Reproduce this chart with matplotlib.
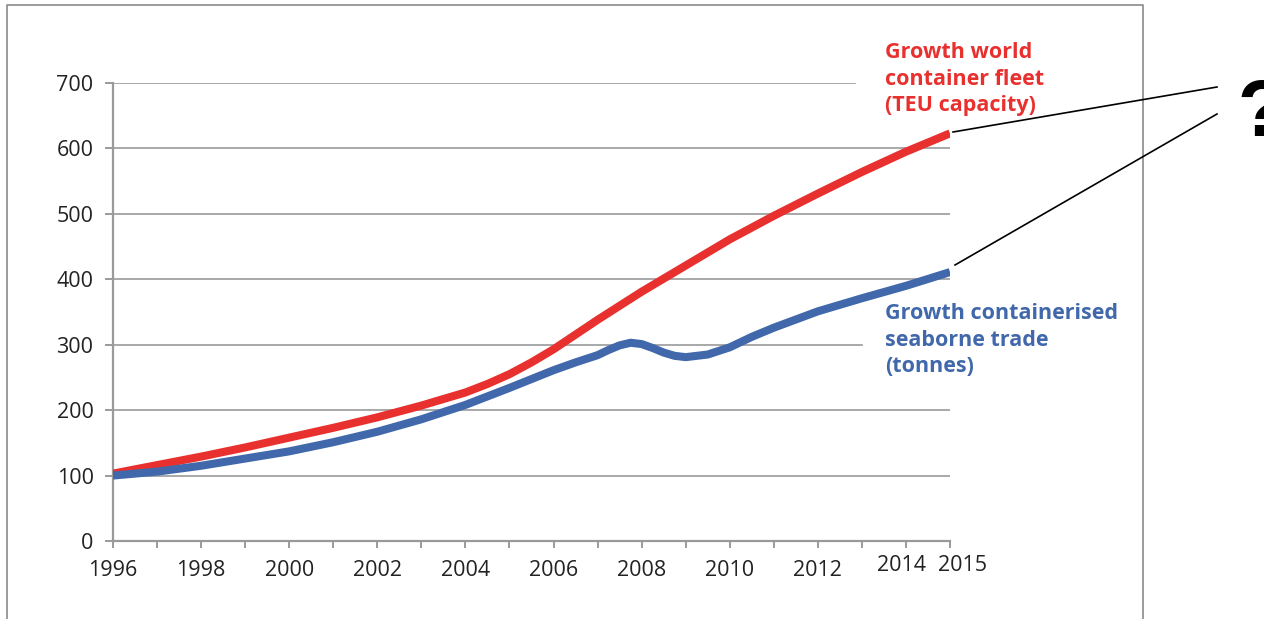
import matplotlib.pyplot as plt
from matplotlib.lines import Line2D

# values (index, 1996 = 100)
fleet_years = [1996, 1997, 1998, 1999, 2000, 2001, 2002, 2003, 2004, 2004.5, 2005,
               2005.5, 2006, 2007, 2008, 2009, 2010, 2011, 2012, 2013, 2014, 2015]
fleet_teu = [103, 116, 129, 143, 158, 173, 189, 207, 227, 240, 255,
             273, 293, 338, 381, 421, 461, 497, 531, 564, 595, 623]

trade_years = [1996, 1997, 1998, 1999, 2000, 2001, 2002, 2003, 2004, 2005,
               2006, 2006.5, 2007, 2007.25, 2007.5, 2007.75, 2008, 2008.25, 2008.5,
               2008.75, 2009, 2009.5, 2010, 2010.5, 2011, 2012, 2013, 2014, 2015]
trade_tonnes = [100, 106, 115, 126, 137, 151, 167, 186, 208, 234,
                261, 273, 284, 292, 299, 303, 301, 295, 288,
                283, 281, 285, 296, 312, 326, 351, 371, 390, 411]

year_ticks = list(range(1996, 2016))
year_labels = ["1996", "1998", "2000", "2002", "2004", "2006", "2008", "2010", "2012"]
y_ticks = [0, 100, 200, 300, 400, 500, 600, 700]

red = "#e8312f"
blue = "#4068ab"
grey = "#9a9a9a"
txt = "#222222"

plt.rcParams['font.family'] = ['Open Sans', 'DejaVu Sans']

fig = plt.figure(figsize=(12.64, 6.19), dpi=100)
W, H = 1264, 619
ax = fig.add_axes([113 / W, 1 - 541 / H, (950 - 113) / W, (541 - 83) / H])

ax.set_xlim(1996, 2015)
ax.set_ylim(0, 700)

# gridlines stop short where the series labels sit
for v in y_ticks[1:]:
    end = 1.0
    if v == 700:
        end = 0.886
    elif v == 300:
        end = 0.895
    ax.axhline(v, xmax=end, color=grey, lw=1.2, zorder=1)

ax.plot(fleet_years, fleet_teu, color=red, lw=5.8, solid_capstyle="butt",
        solid_joinstyle="round", zorder=3)
ax.plot(trade_years, trade_tonnes, color=blue, lw=5.8, solid_capstyle="butt",
        solid_joinstyle="round", zorder=3)

for s in ["top", "right"]:
    ax.spines[s].set_visible(False)
for s in ["left", "bottom"]:
    ax.spines[s].set_color(grey)
    ax.spines[s].set_linewidth(1.6)

ax.set_yticks(y_ticks)
ax.set_xticks(year_ticks)
ax.set_xticklabels([str(y) if str(y) in year_labels else "" for y in year_ticks])
ax.tick_params(axis="y", length=6, width=1.4, color=grey, pad=8,
               labelsize=15.5, labelcolor=txt)
ax.tick_params(axis="x", length=5, width=1.4, color=grey, pad=9,
               labelsize=15.5, labelcolor=txt)

# the last two year labels sit a bit differently in the reference
ax.text(2013.91, -37, "2014", ha="center", va="center", fontsize=15.5, color=txt, clip_on=False)
ax.text(2015.29, -37, "2015", ha="center", va="center", fontsize=15.5, color=txt, clip_on=False)

ax.text(2013.53, 763, "Growth world\ncontainer fleet\n(TEU capacity)", color=red,
        fontsize=15.5, fontweight="bold", ha="left", va="top", linespacing=1.36,
        clip_on=False, zorder=2)
ax.text(2013.53, 364, "Growth containerised\nseaborne trade\n(tonnes)", color=blue,
        fontsize=15.5, fontweight="bold", ha="left", va="top", linespacing=1.36,
        clip_on=False, zorder=2)

# frame around the chart
def fx(px):
    return px / W

def fy(py):
    return 1 - py / H

fig.add_artist(Line2D([fx(7), fx(7), fx(1143), fx(1143)],
                      [fy(619), fy(5), fy(5), fy(619)],
                      color="#8a8a8a", lw=1.2))

# pointer lines to the question mark (cut by the right edge, as in the source)
fig.add_artist(Line2D([fx(953), fx(1217)], [fy(132), fy(87)], color="black", lw=1.2))
fig.add_artist(Line2D([fx(955), fx(1217)], [fy(265), fy(114)], color="black", lw=1.2))
fig.text(fx(1237), fy(116), "?", fontsize=57, fontweight="bold", color="black",
         family="Liberation Sans", ha="left", va="center")

fig.savefig("out.png", dpi=100)
